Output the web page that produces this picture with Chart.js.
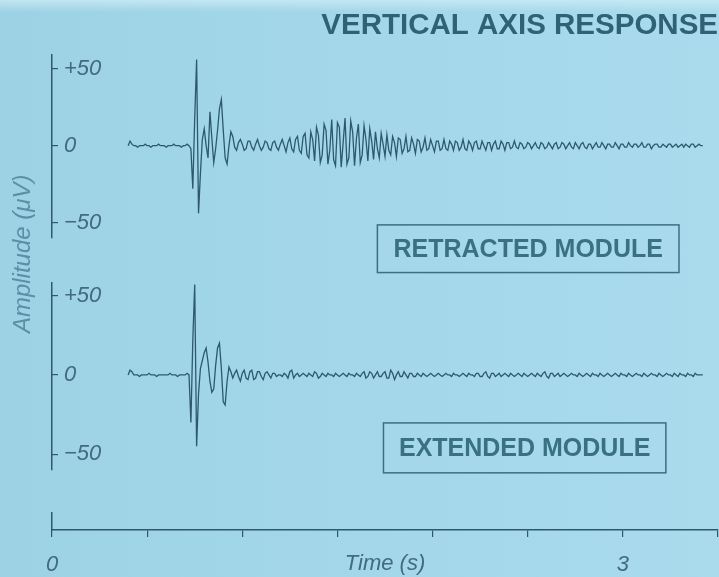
<!DOCTYPE html>
<html>
<head>
<meta charset="utf-8">
<script src="https://cdn.jsdelivr.net/npm/chart.js@4"></script>
<style>
  html, body { margin: 0; padding: 0; }
  body {
    width: 719px; height: 577px; overflow: hidden;
    background: linear-gradient(to bottom, rgba(210,238,246,0.7) 0, rgba(210,238,246,0) 12px),
                linear-gradient(to right, #9dd2e5, #a9dbed);
  }
  canvas { display: block; }
</style>
</head>
<body>
<canvas id="chart" width="719" height="577"></canvas>
<script>
// sampling of both traces (seconds)
const traceStart = 0.40;
const sampleStep = 0.01;

// amplitude in µV
const retracted = [
  0, 3, 1, 0, 0, -1, 0, 0, 0, 1,
  0, 0, -1, 0, 0, 0, 1, 0, 0, 0,
  -1, 0, 0, 0, 1, 0, 0, 0, -1, 0,
  0, 1, 0, -2, -28, 18, 56, -44, -18, 4,
  11, 0, -8, 22, 5, -11, -2, 10, 24, 30,
  10, -8, -12, 0, 9, 6, -1, -3, 2, 4,
  1, -3, -2, 3, 3, -1, -3, 1, 4, 0,
  -3, -1, 3, 2, -2, -3, 2, 3, -1, -3,
  1, 4, 0, -4, 2, 5, -2, -4, 4, 6,
  -3, -5, 6, 8, -6, -8, 9, 4, -10, 12,
  7, -11, -6, 14, 10, -12, -3, 17, -9, -13,
  15, 12, -14, 2, 18, -12, -8, 16, 9, -13,
  5, 14, -11, -6, 13, 4, -10, 11, 3, -9,
  9, -2, -8, 8, 1, -7, 7, -3, -6, 6,
  2, -7, 5, 4, -5, -2, 6, -4, -3, 5,
  1, -5, 4, 3, -4, -1, 5, -3, -2, 4,
  0, -4, 3, 3, -3, -2, 4, -2, -3, 3,
  1, -3, 3, 2, -3, -1, 4, -2, -3, 3,
  1, -3, 2, 3, -2, -2, 3, 0, -3, 2,
  2, -3, 1, 3, -2, -2, 3, 1, -3, 2,
  2, -2, -1, 3, -1, -2, 2,
  1, -2, -1, 2, 1, -2, 0, 2, -1, -2,
  2, 1, -2, -1, 2, 0, -2, 1, 2, -2,
  -1, 2, 1, -2, 0, 2, -1, -2, 2, 0,
  -2, 1, 2, -1, -2, 1, 1, -2, 0, 2,
  -1, -1, 2, 0, -2, 1, 1, -1, -1, 2,
  0, -2, 1, 1, -1, -1, 2, 0, -1, 1,
  1, -1, 0, 2, -1, -1, 1, 1, -2, 0,
  1, 1, -1, -1, 1, 0, -1, 1, 1, -1,
  0, 1, -1, 0, 1, -1, 1, 0, -1, 1,
  1, -1, 0, 1, 0, 0
];

const extended = [
  0, 3, 2, 0, 0, 0, -1, 0, 0, 0,
  0, 1, 0, 0, 0, -1, 0, 0, 0, 0,
  0, 0, 1, 0, 0, 0, -1, 0, 0, 0,
  0, 1, 0,
  -30, 22, 57, -45, -12, 4, 9, 14, 17, 8,
  -4, -11, -9, 6, 17, 20, 4, -17, -19, -4,
  5, 2, -2, 1,
  3, -1, -4, 1, 3, -2, -3, 2, 3, -3,
  -2, 2, 2, -1, -3, 1, 2, 0, -2, 1,
  1, -1, 0, 0, -1, 1, 0, -2, 2, 3,
  -2, 0, 1, -1, 0, 1, 0, -1, 1, 0,
  -1, 2, 1, -2, -1, 1, 0, -1, 1, 0,
  0, -1, 1, 0, -1, 0, 1, 0, -1, 1,
  0, 0, -1, 1, 0, -1, 1, 2, -2, -1,
  2, 1, -2, 0, 2, -1, -1, 1, 2, -2,
  -2, 3, 1, -3, 0, 2, -1, -1, 2, 0,
  -2, 1, 1, -1, -1, 1, 0, -1, 1, 0,
  -1, 0, 1, 0, -1, 0, 1, 0, -1, 0,
  1, 0, 0, -1, 1, 0, 0, -1, 0, 1,
  0, -1, 1, 0, 0, -1, 1, 1, -1, -1,
  1, 2, -1, -2, 1, 1, -1, 0, 1, -1,
  0, 1, 0, -1, 1, 0, -1, 0, 1, 0,
  -1, 1, 0, -1, 0, 1, 0, -1, 1, 0,
  -1, 1, 2, -1, -2, 1, 1, -1, 0, 1,
  -1, 0, 1, 0, -1, 0, 1, 0, 0, -1,
  1, 0, -1, 0, 1, 0, -1, 1, 0, 0,
  -1, 1, 0, -1, 0, 1, 0, -1, 0, 1,
  0, -1, 1, 0, 0, -1, 1, 0, -1, 0,
  1, 0, 0, -1, 1, 0, -1, 0, 1, 0,
  0, -1, 1, 0, -1, 0, 1, 0, 0, -1,
  1, 0, -1, 1, 0, 0, -1, 1, 0, 0,
  -1, 1, 0, 0, 0, 0
];

const ampTicks = [-50, 0, 50];
const ampTickLabels = ['\u221250', '0', '+50'];
const timeTicks = [0, 0.5, 1, 1.5, 2, 2.5, 3, 3.5];
const timeTickLabels = ['0', '', '', '', '', '', '3', ''];

const ink = '#2c5a6c';
const tickInk = '#426b7c';
const titleInk = '#2f6275';
const boxInk = '#3a7084';
const yTitleInk = '#5b8fa7';

Chart.defaults.font.family = '"Liberation Sans", Arial, sans-serif';

function toPoints(values) {
  return values.map((v, i) => ({ x: +(traceStart + i * sampleStep).toFixed(2), y: v }));
}

// labelled frames under each trace
const moduleBoxes = [
  { text: 'RETRACTED MODULE', axis: 'yTop', x0: 1.71, x1: 3.295, y0: -51.5, y1: -82.5 },
  { text: 'EXTENDED MODULE', axis: 'yBot', x0: 1.742, x1: 3.226, y0: -30.3, y1: -61.8 }
];

const moduleLabels = {
  id: 'moduleLabels',
  afterDatasetsDraw(chart) {
    const { ctx, scales } = chart;
    ctx.save();
    moduleBoxes.forEach(b => {
      const l = scales.x.getPixelForValue(b.x0);
      const r = scales.x.getPixelForValue(b.x1);
      const t = scales[b.axis].getPixelForValue(b.y0);
      const bt = scales[b.axis].getPixelForValue(b.y1);
      ctx.strokeStyle = boxInk;
      ctx.lineWidth = 1.5;
      ctx.strokeRect(l, t, r - l, bt - t);
      ctx.fillStyle = boxInk;
      ctx.font = 'bold 25px "Liberation Sans", Arial, sans-serif';
      ctx.textAlign = 'center';
      ctx.textBaseline = 'middle';
      ctx.fillText(b.text, (l + r) / 2, (t + bt) / 2 + 1);
    });
    ctx.restore();
  }
};

const hidden = {
  type: 'linear', position: 'left', stack: 'amp', min: 0, max: 1,
  afterFit: s => { s.width = 52; },
  border: { display: false }, grid: { display: false }, ticks: { display: false }
};

function ampAxis(weight, stackWeight, min, max) {
  return {
    type: 'linear', position: 'left', stack: 'amp', weight, stackWeight, min, max,
    afterBuildTicks: s => { s.ticks = ampTicks.map(v => ({ value: v })); },
    afterFit: s => { s.width = 52; },
    border: { color: ink, width: 1.5 },
    grid: { drawOnChartArea: false, tickLength: -6, color: ink, lineWidth: 1.2 },
    ticks: {
      mirror: true, padding: 12, color: tickInk,
      font: { style: 'italic', size: 22 },
      callback: (v, i) => ampTickLabels[i]
    }
  };
}

new Chart(document.getElementById('chart'), {
  type: 'line',
  data: {
    datasets: [
      { label: 'Retracted module', data: toPoints(retracted), yAxisID: 'yTop',
        borderColor: ink, borderWidth: 1.3, pointRadius: 0, tension: 0 },
      { label: 'Extended module', data: toPoints(extended), yAxisID: 'yBot',
        borderColor: ink, borderWidth: 1.3, pointRadius: 0, tension: 0 }
    ]
  },
  options: {
    responsive: false,
    animation: false,
    layout: { padding: { top: 0, right: 1, bottom: 0, left: 0 } },
    plugins: {
      legend: { display: false },
      tooltip: { enabled: false },
      title: {
        display: true, text: 'VERTICAL AXIS RESPONSE', align: 'end', color: titleInk,
        font: { size: 29.5, weight: 'bold', lineHeight: 1.15 }, padding: { top: 9, bottom: 12 }
      }
    },
    scales: {
      x: {
        type: 'linear', min: 0, max: 3.5,
        afterBuildTicks: s => { s.ticks = timeTicks.map(v => ({ value: v })); },
        afterFit: s => { s.height = 47; s.paddingLeft = 0; s.paddingRight = 0; },
        border: { color: ink, width: 1.5 },
        grid: { drawOnChartArea: false, tickLength: 7, color: ink, lineWidth: 1.2 },
        ticks: {
          padding: 15, color: tickInk, maxRotation: 0, autoSkip: false,
          font: { style: 'italic', size: 22 },
          callback: (v, i) => timeTickLabels[i]
        },
        title: {
          display: true, text: 'Time (s)', color: tickInk, padding: 0,
          font: { style: 'italic', size: 22, lineHeight: 1.2 }
        }
      },
      yTop: ampAxis(5, 183, -60, 59),
      gap: Object.assign({}, hidden, {
        weight: 4, stackWeight: 45,
        title: {
          display: true, text: '  Amplitude (\u03bcV)', color: yTitleInk,
          font: { style: 'italic', size: 24 }, padding: { top: 9, bottom: 0 }
        }
      }),
      yBot: ampAxis(3, 187, -60, 58),
      gap2: Object.assign({}, hidden, { weight: 2, stackWeight: 43 }),
      stub: Object.assign({}, hidden, {
        weight: 1, stackWeight: 17,
        border: { display: true, color: ink, width: 1.5 }
      })
    }
  },
  plugins: [moduleLabels]
});
</script>
</body>
</html>
